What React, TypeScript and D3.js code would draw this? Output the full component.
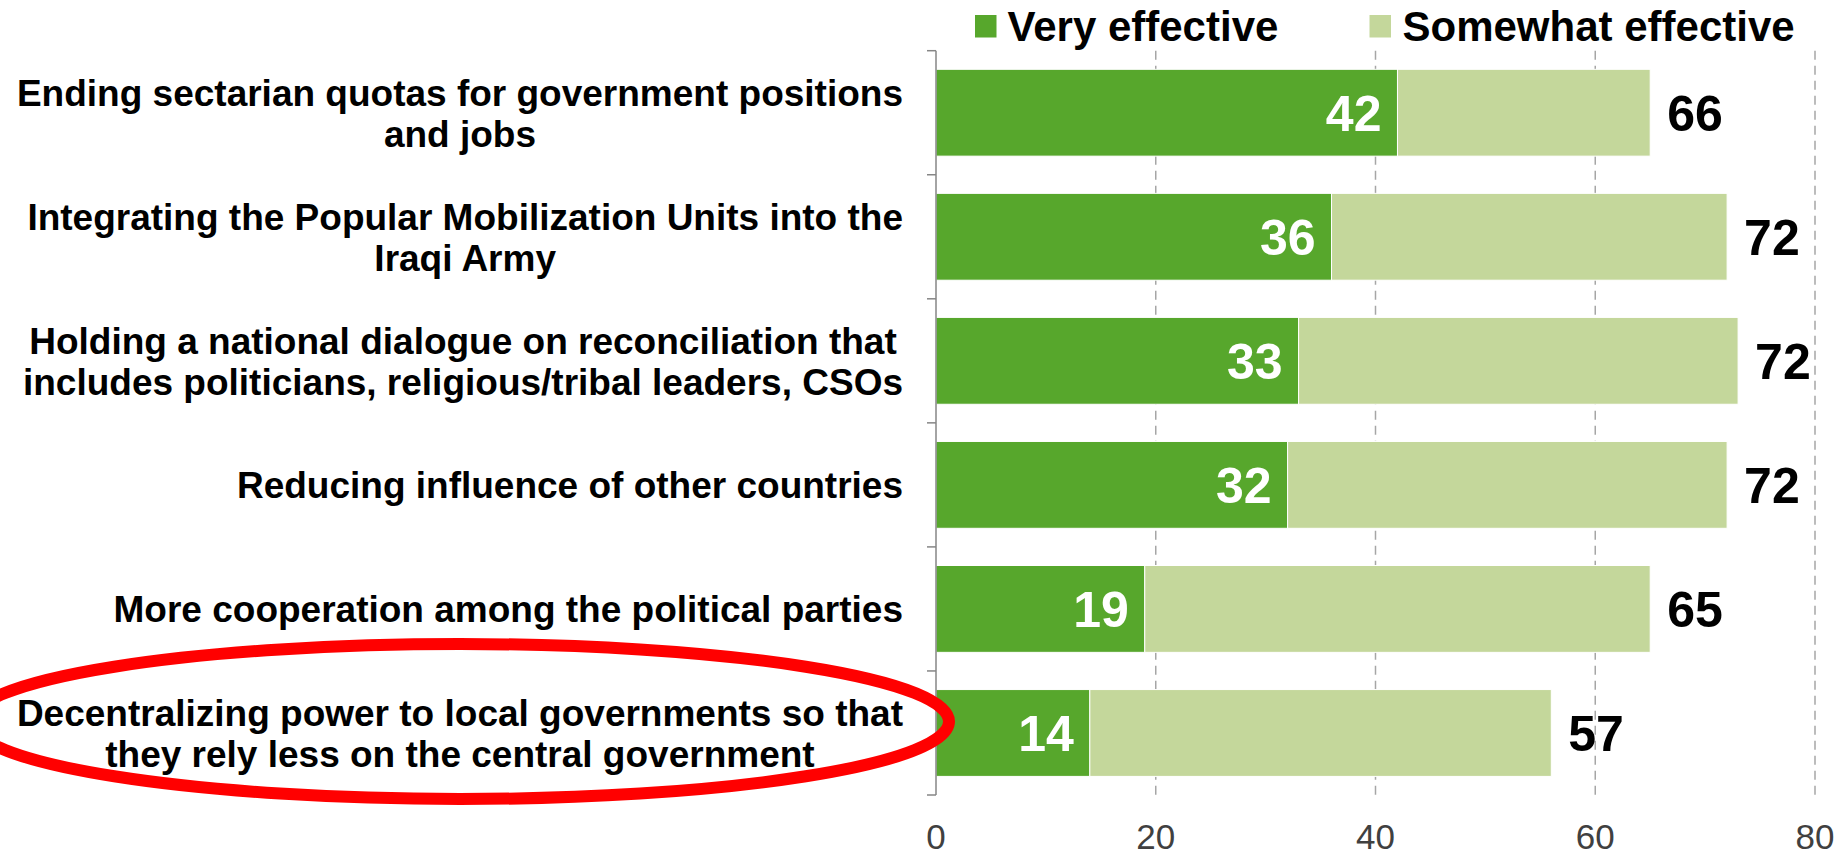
import React, { useMemo } from "react";
import * as d3 from "d3";

const categories: string[][] = [
  ["Ending sectarian quotas for government positions", "and jobs"],
  ["Integrating the Popular Mobilization Units into the", "Iraqi Army"],
  ["Holding a national dialogue on reconciliation that", "includes politicians, religious/tribal leaders, CSOs"],
  ["Reducing influence of other countries"],
  ["More cooperation among the political parties"],
  ["Decentralizing power to local governments so that", "they rely less on the central government"],
];
const veryEffective = [42, 36, 33, 32, 19, 14];
const somewhatEffective = [23, 36, 40, 40, 46, 42];
const totalLabels = [66, 72, 72, 72, 65, 57];
const xTicks = [0, 20, 40, 60, 80];
const seriesNames = ["Very effective", "Somewhat effective"];

const FONT = '"Liberation Sans", Arial, Helvetica, sans-serif';
const DARK = "#57A72C";
const LIGHT = "#C4D79B";

export default function App() {
  const W = 1847;
  const H = 856;
  const x0 = 936;
  const x1 = 1815;
  const yTop = 50.7;
  const yBot = 795;

  const x = d3.scaleLinear().domain([0, 80]).range([x0, x1]);
  const idx = categories.map((_, i) => String(i));
  const y = d3
    .scaleBand<string>()
    .domain(idx)
    .range([yTop, yBot])
    .paddingInner(0.3)
    .paddingOuter(0.15);

  const step = y.step();
  const bw = y.bandwidth();

  const labelFs = 37;
  const widths = useMemo(() => {
    const c = document.createElement("canvas").getContext("2d");
    if (!c) return categories.map((ls) => ls.map((l) => l.length * 18));
    c.font = `bold ${labelFs}px ${FONT}`;
    return categories.map((ls) => ls.map((l) => c.measureText(l).width));
  }, []);

  const labelRight = 903;
  const lineH = 41;

  const boundaries = d3.range(categories.length + 1).map((i) => yTop + i * step);

  return (
    <svg
      width={W}
      height={H}
      style={{ position: "absolute", left: 0, top: 0, background: "#fff" }}
      fontFamily={FONT}
    >
      {/* gridlines */}
      {xTicks
        .filter((t) => t > 0)
        .map((t) => (
          <line
            key={"g" + t}
            x1={x(t)}
            x2={x(t)}
            y1={yTop}
            y2={yBot}
            stroke="#A6A6A6"
            strokeWidth={1.5}
            strokeDasharray="9,6"
          />
        ))}
      {/* bars */}
      {categories.map((_, i) => {
        const yy = y(String(i))!;
        const v1 = veryEffective[i];
        const v2 = somewhatEffective[i];
        return (
          <g key={"b" + i}>
            <rect x={x(0)} y={yy} width={x(v1) - x(0)} height={bw} fill={DARK} stroke="#fff" strokeWidth={1} />
            <rect x={x(v1)} y={yy} width={x(v1 + v2) - x(v1)} height={bw} fill={LIGHT} stroke="#fff" strokeWidth={1} />
            <text
              x={x(v1) - 16}
              y={yy + bw / 2}
              dy="0.36em"
              textAnchor="end"
              fontSize={50}
              fontWeight="bold"
              fill="#fff"
            >
              {v1}
            </text>
            <text
              x={x(v1 + v2) + 17}
              y={yy + bw / 2}
              dy="0.36em"
              textAnchor="start"
              fontSize={50}
              fontWeight="bold"
              fill="#000"
            >
              {totalLabels[i]}
            </text>
          </g>
        );
      })}
      {/* axis line and ticks */}
      <line x1={x0} x2={x0} y1={yTop} y2={yBot} stroke="#868686" strokeWidth={1.5} />
      {boundaries.map((b, i) => (
        <line key={"t" + i} x1={x0 - 9} x2={x0} y1={b} y2={b} stroke="#868686" strokeWidth={1.5} />
      ))}
      {/* x tick labels */}
      {xTicks.map((t) => (
        <text key={"xl" + t} x={x(t)} y={849} textAnchor="middle" fontSize={35} fill="#404040">
          {t}
        </text>
      ))}
      {/* category labels */}
      {categories.map((lines, i) => {
        const cy = y(String(i))! + bw / 2;
        const maxW = Math.max(...widths[i]);
        const cx = labelRight - maxW / 2;
        return (
          <text key={"c" + i} textAnchor="middle" fontSize={labelFs} fontWeight="bold" fill="#000">
            {lines.map((l, j) => (
              <tspan key={j} x={cx} y={cy + (j - (lines.length - 1) / 2) * lineH} dy="0.36em">
                {l}
              </tspan>
            ))}
          </text>
        );
      })}
      {/* legend */}
      <rect x={975} y={15} width={21.5} height={22.5} fill={DARK} />
      <text x={1007.5} y={40.7} fontSize={42} fontWeight="bold" fill="#000">
        {seriesNames[0]}
      </text>
      <rect x={1369.5} y={15} width={21.5} height={22.5} fill={LIGHT} />
      <text x={1402.5} y={40.7} fontSize={42} fontWeight="bold" fill="#000">
        {seriesNames[1]}
      </text>
      {/* red highlight ellipse */}
      <ellipse cx={460} cy={721.5} rx={489} ry={77.5} fill="none" stroke="#FF0000" strokeWidth={12} />
    </svg>
  );
}
